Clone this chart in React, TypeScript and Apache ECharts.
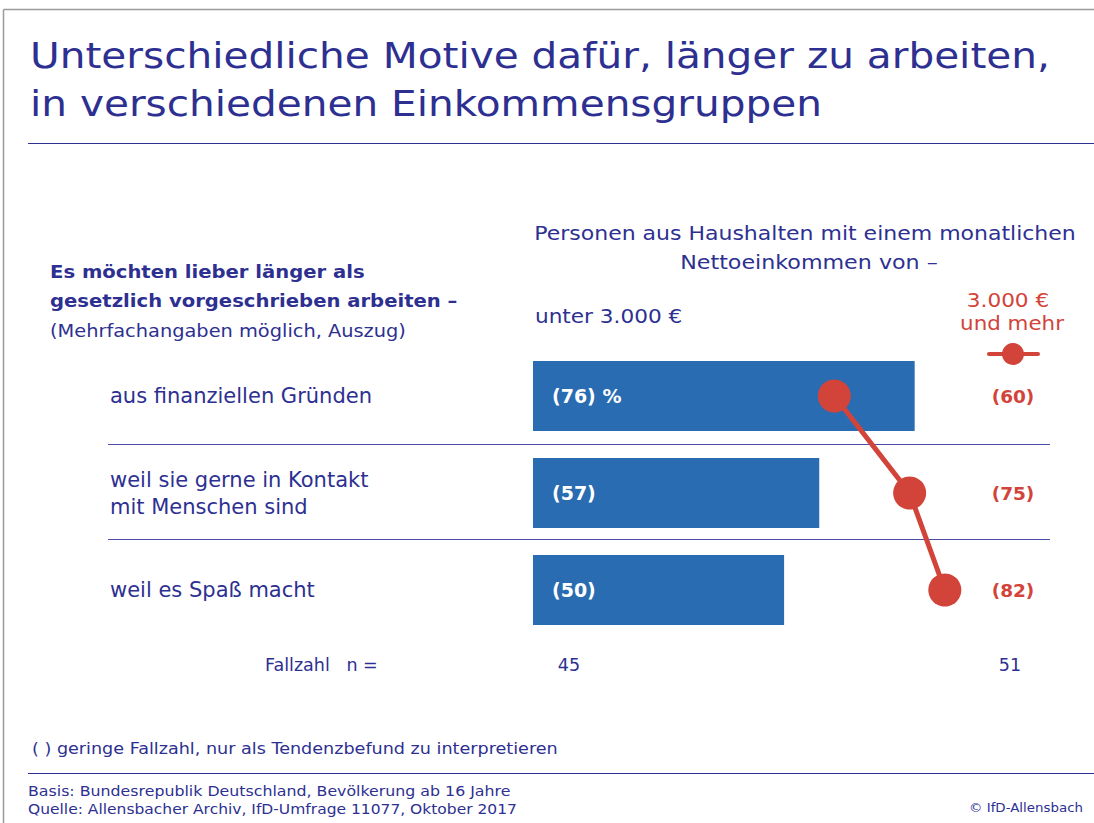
import React, { useEffect, useRef } from "react";
import * as echarts from "echarts";

const categories = [
  "aus finanziellen Gründen",
  "weil sie gerne in Kontakt\nmit Menschen sind",
  "weil es Spaß macht",
];
const lowIncome = [76, 57, 50];
const highIncome = [60, 75, 82];
const caseCounts = ["45", "51"];

const NAVY = "#2d3091";
const BLUE = "#2a6cb2";
const RED = "#d2433a";
const FONT = "DejaVu Sans";

const GRID_LEFT = 533;
const GRID_TOP = 347.5;
const GRID_W = 457;
const GRID_H = 291;

export default function App() {
  const ref = useRef<HTMLDivElement>(null);
  useEffect(() => {
    if (!ref.current) return;
    const chart = echarts.init(ref.current, undefined, { renderer: "svg" });
    const band = GRID_H / categories.length;
    const txt = (
      text: string,
      x: number,
      y: number,
      size: number,
      sx = 1,
      fill = NAVY,
      weight: any = "normal",
      align: any = "left"
    ) => ({
      type: "text",
      x,
      y,
      scaleX: sx,
      silent: true,
      style: {
        text,
        fill,
        fontSize: size,
        fontFamily: FONT,
        fontWeight: weight,
        align,
        verticalAlign: "middle",
      },
    });
    const graphics: any[] = [
      { type: "line", shape: { x1: 3.5, y1: 9.5, x2: 1094, y2: 9.5 }, style: { stroke: "#9a9a9a", lineWidth: 1.5 } },
      { type: "line", shape: { x1: 3.5, y1: 9.5, x2: 3.5, y2: 823 }, style: { stroke: "#9a9a9a", lineWidth: 1.5 } },
      txt("Unterschiedliche Motive dafür, länger zu arbeiten,", 30, 56, 35, 1.16),
      txt("in verschiedenen Einkommensgruppen", 30, 104, 35, 1.16),
      { type: "line", shape: { x1: 28, y1: 143.5, x2: 1094, y2: 143.5 }, style: { stroke: NAVY, lineWidth: 1 } },
      txt("Es möchten lieber länger als", 50, 272, 18, 1.09, NAVY, "bold"),
      txt("gesetzlich vorgeschrieben arbeiten –", 50, 301, 18, 1.09, NAVY, "bold"),
      txt("(Mehrfachangaben möglich, Auszug)", 50, 331, 17, 1.14),
      txt("Personen aus Haushalten mit einem monatlichen", 805, 233, 20, 1.1, NAVY, "normal", "center"),
      txt("Nettoeinkommen von –", 809, 262, 20, 1.11, NAVY, "normal", "center"),
      txt("unter 3.000 €", 535, 316, 20, 1.08),
      txt("3.000 €", 1008, 300, 20, 1.08, RED, "normal", "center"),
      txt("und mehr", 1012, 323, 20, 1.07, RED, "normal", "center"),
      { type: "line", shape: { x1: 989, y1: 354, x2: 1038, y2: 354 }, style: { stroke: RED, lineWidth: 4, lineCap: "round" } },
      { type: "circle", shape: { cx: 1013, cy: 354, r: 11 }, style: { fill: RED } },
      { type: "line", shape: { x1: 108, y1: GRID_TOP + band, x2: 1050, y2: GRID_TOP + band }, style: { stroke: "#4a4ea8", lineWidth: 1.2 } },
      { type: "line", shape: { x1: 108, y1: GRID_TOP + 2 * band - 2, x2: 1050, y2: GRID_TOP + 2 * band - 2 }, style: { stroke: "#4a4ea8", lineWidth: 1.2 } },
      txt("Fallzahl   n =", 265, 665, 17.5),
      txt(caseCounts[0], 569, 665, 17.5, 1, NAVY, "normal", "center"),
      txt(caseCounts[1], 1010, 665, 17.5, 1, NAVY, "normal", "center"),
      txt("( ) geringe Fallzahl, nur als Tendenzbefund zu interpretieren", 32, 748, 16, 1.1),
      { type: "line", shape: { x1: 28, y1: 773.5, x2: 1094, y2: 773.5 }, style: { stroke: NAVY, lineWidth: 1 } },
      txt("Basis: Bundesrepublik Deutschland, Bevölkerung ab 16 Jahre", 28, 791, 14.5, 1.09),
      txt("Quelle: Allensbacher Archiv, IfD-Umfrage 11077, Oktober 2017", 28, 809, 14.5, 1.07),
      txt("© IfD-Allensbach", 1083, 808, 13, 1.03, NAVY, "normal", "right"),
    ];
    chart.setOption({
      animation: false,
      grid: { left: GRID_LEFT, top: GRID_TOP, width: GRID_W, height: GRID_H, containLabel: false },
      xAxis: { type: "value", min: 0, max: 91, show: false },
      yAxis: [
        {
          type: "category",
          data: categories,
          inverse: true,
          axisLine: { show: false },
          axisTick: { show: false },
          splitLine: { show: false },
          axisLabel: {
            align: "left",
            margin: GRID_LEFT - 110,
            color: NAVY,
            fontSize: 21,
            fontFamily: FONT,
            lineHeight: 27,
          },
        },
        {
          type: "category",
          data: categories,
          inverse: true,
          position: "right",
          axisLine: { show: false },
          axisTick: { show: false },
          splitLine: { show: false },
          axisLabel: {
            align: "center",
            margin: 23,
            color: RED,
            fontSize: 18.5,
            fontWeight: "bold",
            fontFamily: FONT,
            formatter: (_v: string, i: number) => `(${highIncome[i]})`,
          },
        },
      ],
      series: [
        {
          type: "bar",
          xAxisIndex: 0,
          yAxisIndex: 0,
          data: lowIncome,
          barWidth: 70,
          itemStyle: { color: BLUE },
          label: {
            show: true,
            position: "insideLeft",
            distance: 19,
            color: "#ffffff",
            fontSize: 19,
            fontWeight: "bold",
            fontFamily: FONT,
            formatter: (p: any) => (p.dataIndex === 0 ? `(${p.value}) %` : `(${p.value})`),
          },
        },
        {
          type: "line",
          xAxisIndex: 0,
          yAxisIndex: 0,
          data: highIncome,
          symbol: "circle",
          symbolSize: 33,
          showSymbol: true,
          lineStyle: { color: RED, width: 5 },
          itemStyle: { color: RED },
          z: 5,
        },
      ],
      graphic: graphics,
    });
    return () => chart.dispose();
  }, []);
  return (
    <div
      ref={ref}
      style={{ position: "fixed", left: 0, top: 0, width: 1094, height: 823, background: "#fff" }}
    />
  );
}
